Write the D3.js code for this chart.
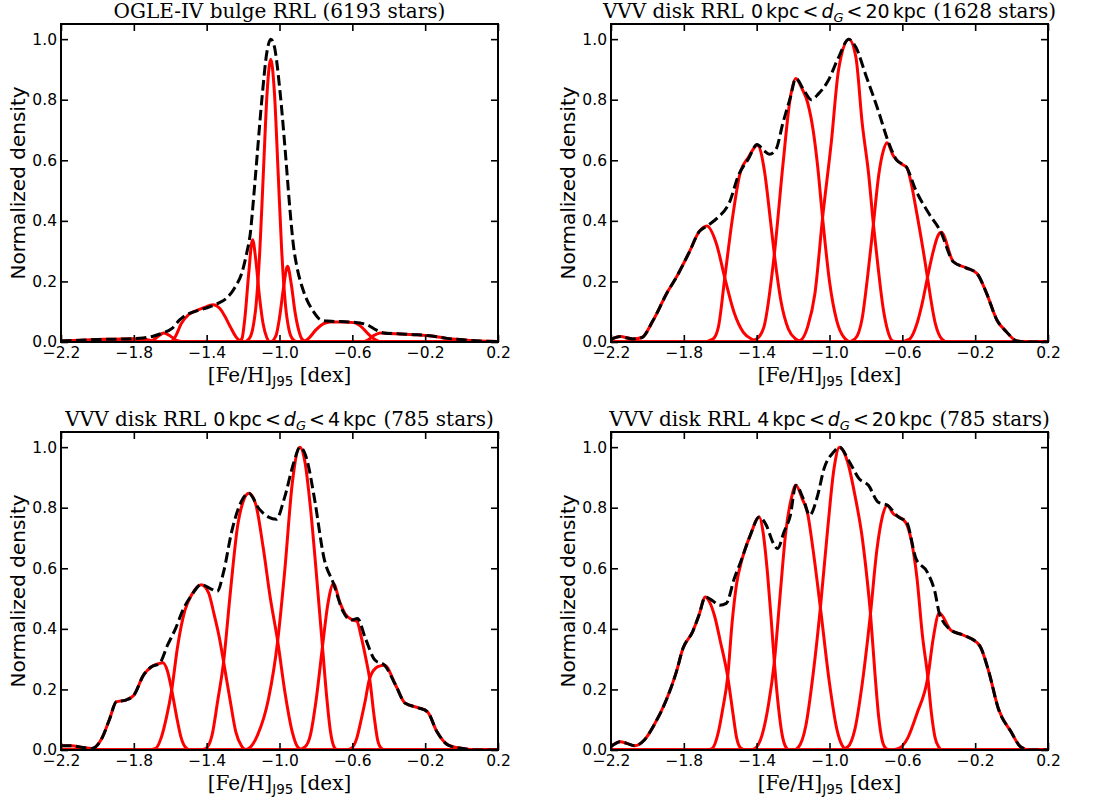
<!DOCTYPE html>
<html>
<head>
<meta charset="utf-8">
<script src="https://cdn.jsdelivr.net/npm/d3@7"></script>
<style>
  body { margin: 0; background: #fff; }
  svg { display: block; }
</style>
</head>
<body>
<div id="containerGraph"></div>
<script>

// axis ticks
var xTicks = [-2.2, -1.8, -1.4, -1.0, -0.6, -0.2, 0.2];
var yTicks = [0, 0.2, 0.4, 0.6, 0.8, 1.0];

// panel titles: [text before math, lower kpc, upper kpc, number of stars]
var titleOgle = "OGLE-IV bulge RRL (6193 stars)";
var titleVvvAll = ["VVV disk RRL", "0", "20", "(1628 stars)"];
var titleVvvNear = ["VVV disk RRL", "0", "4", "(785 stars)"];
var titleVvvFar = ["VVV disk RRL", "4", "20", "(785 stars)"];

// ---- OGLE-IV bulge: total density (dashed) and components (red), [x, y]
var ogleDensity = [[-2.2,0.003],[-2.0,0.008],[-1.8,0.011],[-1.75,0.013],[-1.69,0.02],[-1.64,0.03],[-1.59,0.045],[-1.55,0.072],[-1.52,0.087],[-1.48,0.098],[-1.43,0.107],[-1.38,0.117],[-1.34,0.127],[-1.29,0.145],[-1.245,0.18],[-1.207,0.228],[-1.18,0.294],[-1.16,0.36],[-1.143,0.47],[-1.125,0.6],[-1.097,0.8],[-1.07,0.954],[-1.048,1.0],[-1.03,0.98],[-0.996,0.82],[-0.969,0.635],[-0.941,0.426],[-0.923,0.316],[-0.905,0.25],[-0.877,0.184],[-0.85,0.14],[-0.813,0.1],[-0.776,0.074],[-0.74,0.069],[-0.7,0.068],[-0.593,0.065],[-0.52,0.057],[-0.47,0.04],[-0.428,0.03],[-0.35,0.027],[-0.245,0.024],[-0.153,0.019],[-0.08,0.012],[-0.007,0.008],[0.1,0.003],[0.2,0.002]];
var ogleComponents = [
  [[-2.2,0.003],[-2.0,0.008],[-1.8,0.011],[-1.75,0.01],[-1.7,0.004],[-1.65,0],[0.2,0]],
  [[-2.2,0],[-1.72,0],[-1.68,0.012],[-1.635,0.03],[-1.6,0.02],[-1.56,0.004],[-1.52,0],[0.2,0]],
  [[-2.2,0],[-1.6,0],[-1.57,0.02],[-1.54,0.06],[-1.5,0.09],[-1.45,0.105],[-1.4,0.117],[-1.363,0.123],[-1.33,0.112],[-1.3,0.085],[-1.27,0.05],[-1.24,0.018],[-1.21,0.002],[-1.18,0],[0.2,0]],
  [[-2.2,0],[-1.23,0],[-1.207,0.01],[-1.19,0.08],[-1.17,0.22],[-1.148,0.338],[-1.13,0.27],[-1.11,0.15],[-1.09,0.06],[-1.07,0.015],[-1.05,0],[0.2,0]],
  [[-2.2,0],[-1.198,0],[-1.168,0.01],[-1.148,0.041],[-1.128,0.127],[-1.108,0.303],[-1.088,0.567],[-1.068,0.824],[-1.048,0.934],[-1.028,0.824],[-1.008,0.567],[-0.988,0.303],[-0.968,0.127],[-0.948,0.041],[-0.928,0.01],[-0.898,0],[0.2,0]],
  [[-2.2,0],[-1.05,0],[-1.02,0.02],[-1.0,0.08],[-0.98,0.17],[-0.956,0.25],[-0.935,0.19],[-0.915,0.1],[-0.895,0.04],[-0.877,0.01],[-0.85,0],[0.2,0]],
  [[-2.2,0],[-0.88,0],[-0.84,0.012],[-0.8,0.04],[-0.76,0.06],[-0.72,0.066],[-0.65,0.066],[-0.593,0.064],[-0.55,0.05],[-0.51,0.025],[-0.47,0.006],[-0.44,0],[0.2,0]],
  [[-2.2,0],[-0.55,0],[-0.51,0.008],[-0.48,0.022],[-0.447,0.03],[-0.4,0.028],[-0.35,0.027],[-0.245,0.024],[-0.153,0.019],[-0.08,0.012],[-0.007,0.008],[0.1,0.003],[0.2,0.002]]
];

// ---- VVV disk 0 < dG < 20 kpc
var vvvAllDensity = [[-2.2,0.008],[-2.15,0.018],[-2.08,0.01],[-2.03,0.015],[-1.97,0.07],[-1.89,0.165],[-1.84,0.215],[-1.77,0.297],[-1.715,0.365],[-1.673,0.383],[-1.615,0.41],[-1.55,0.46],[-1.5,0.55],[-1.445,0.605],[-1.398,0.652],[-1.36,0.632],[-1.33,0.62],[-1.295,0.635],[-1.255,0.725],[-1.215,0.807],[-1.185,0.87],[-1.14,0.831],[-1.1,0.8],[-1.06,0.82],[-1.01,0.86],[-0.95,0.94],[-0.895,1.0],[-0.855,0.973],[-0.8,0.88],[-0.73,0.76],[-0.68,0.666],[-0.63,0.6],[-0.58,0.58],[-0.525,0.5],[-0.455,0.425],[-0.39,0.365],[-0.32,0.265],[-0.25,0.245],[-0.19,0.226],[-0.14,0.165],[-0.08,0.072],[-0.03,0.035],[0.03,0.003],[0.1,0],[0.2,0]];
var vvvAllComponents = [
  [[-2.2,0.008],[-2.15,0.018],[-2.08,0.01],[-2.03,0.015],[-1.97,0.07],[-1.89,0.165],[-1.84,0.215],[-1.77,0.297],[-1.715,0.365],[-1.673,0.383],[-1.623,0.328],[-1.573,0.207],[-1.523,0.096],[-1.473,0.032],[-1.423,0.008],[-1.37,0],[0.2,0]],
  [[-2.2,0],[-1.7,0],[-1.64,0.01],[-1.61,0.05],[-1.575,0.213],[-1.535,0.4],[-1.49,0.56],[-1.445,0.61],[-1.396,0.65],[-1.356,0.56],[-1.326,0.41],[-1.303,0.29],[-1.266,0.133],[-1.226,0.043],[-1.186,0.01],[-1.146,0],[0.2,0]],
  [[-2.2,0],[-1.445,0],[-1.4,0.01],[-1.36,0.05],[-1.303,0.29],[-1.255,0.59],[-1.215,0.807],[-1.185,0.87],[-1.15,0.835],[-1.12,0.79],[-1.09,0.7],[-1.065,0.58],[-1.038,0.41],[-1.0,0.2],[-0.96,0.07],[-0.92,0.015],[-0.88,0],[0.2,0]],
  [[-2.2,0],[-1.2,0],[-1.16,0.005],[-1.12,0.05],[-1.08,0.16],[-1.038,0.41],[-0.99,0.66],[-0.95,0.9],[-0.893,1.0],[-0.855,0.94],[-0.82,0.72],[-0.785,0.554],[-0.759,0.389],[-0.733,0.246],[-0.706,0.114],[-0.68,0.037],[-0.654,0.004],[-0.62,0],[0.2,0]],
  [[-2.2,0],[-0.9,0],[-0.86,0.01],[-0.82,0.08],[-0.79,0.22],[-0.759,0.389],[-0.73,0.55],[-0.705,0.63],[-0.684,0.658],[-0.65,0.615],[-0.61,0.59],[-0.575,0.576],[-0.55,0.52],[-0.523,0.433],[-0.479,0.279],[-0.462,0.213],[-0.418,0.059],[-0.383,0.01],[-0.35,0],[0.2,0]],
  [[-2.2,0],[-0.62,0],[-0.56,0.01],[-0.52,0.06],[-0.49,0.13],[-0.462,0.213],[-0.43,0.3],[-0.405,0.35],[-0.386,0.362],[-0.32,0.265],[-0.25,0.245],[-0.19,0.226],[-0.14,0.165],[-0.08,0.072],[-0.03,0.035],[0.03,0.003],[0.1,0],[0.2,0]]
];

// ---- VVV disk 0 < dG < 4 kpc
var vvvNearDensity = [[-2.2,0.014],[-2.144,0.014],[-2.08,0.008],[-2.03,0.005],[-1.976,0.038],[-1.932,0.104],[-1.897,0.159],[-1.844,0.165],[-1.8,0.181],[-1.747,0.247],[-1.703,0.275],[-1.659,0.286],[-1.615,0.346],[-1.571,0.401],[-1.527,0.467],[-1.483,0.511],[-1.43,0.546],[-1.38,0.533],[-1.342,0.524],[-1.307,0.588],[-1.263,0.72],[-1.219,0.808],[-1.168,0.848],[-1.113,0.797],[-1.06,0.769],[-1.017,0.762],[-0.974,0.83],[-0.921,0.95],[-0.888,1.0],[-0.851,0.962],[-0.808,0.83],[-0.755,0.632],[-0.703,0.549],[-0.65,0.456],[-0.607,0.429],[-0.572,0.434],[-0.528,0.368],[-0.476,0.297],[-0.423,0.28],[-0.362,0.214],[-0.309,0.154],[-0.24,0.14],[-0.187,0.126],[-0.135,0.06],[-0.073,0.016],[0.005,0.005],[0.075,0],[0.2,0]];
var vvvNearComponents = [
  [[-2.2,0.014],[-2.144,0.014],[-2.08,0.008],[-2.03,0.005],[-1.976,0.038],[-1.932,0.104],[-1.897,0.159],[-1.844,0.165],[-1.8,0.181],[-1.747,0.247],[-1.703,0.275],[-1.665,0.285],[-1.641,0.288],[-1.615,0.26],[-1.592,0.198],[-1.565,0.11],[-1.54,0.04],[-1.515,0.008],[-1.49,0],[0.2,0]],
  [[-2.2,0],[-1.72,0],[-1.68,0.005],[-1.65,0.04],[-1.62,0.11],[-1.592,0.198],[-1.56,0.34],[-1.52,0.46],[-1.48,0.515],[-1.43,0.546],[-1.39,0.52],[-1.36,0.45],[-1.33,0.37],[-1.307,0.291],[-1.27,0.16],[-1.24,0.06],[-1.21,0.015],[-1.18,0],[0.2,0]],
  [[-2.2,0],[-1.44,0],[-1.405,0.005],[-1.37,0.05],[-1.34,0.16],[-1.307,0.291],[-1.27,0.52],[-1.23,0.74],[-1.2,0.82],[-1.168,0.848],[-1.13,0.81],[-1.09,0.67],[-1.05,0.5],[-1.01,0.36],[-0.97,0.19],[-0.93,0.06],[-0.9,0.01],[-0.87,0],[0.2,0]],
  [[-2.2,0],[-1.2,0],[-1.17,0.005],[-1.12,0.05],[-1.06,0.17],[-1.01,0.36],[-0.97,0.6],[-0.93,0.88],[-0.888,1.0],[-0.86,0.95],[-0.83,0.8],[-0.8,0.6],[-0.764,0.341],[-0.74,0.17],[-0.72,0.06],[-0.7,0.01],[-0.68,0],[0.2,0]],
  [[-2.2,0],[-0.9,0],[-0.86,0.01],[-0.83,0.05],[-0.8,0.16],[-0.764,0.341],[-0.735,0.48],[-0.703,0.549],[-0.67,0.49],[-0.64,0.45],[-0.6,0.43],[-0.575,0.425],[-0.55,0.37],[-0.525,0.3],[-0.505,0.236],[-0.48,0.11],[-0.46,0.03],[-0.44,0.005],[-0.42,0],[0.2,0]],
  [[-2.2,0],[-0.64,0],[-0.607,0.005],[-0.575,0.04],[-0.554,0.093],[-0.53,0.16],[-0.505,0.236],[-0.46,0.275],[-0.423,0.28],[-0.362,0.214],[-0.309,0.154],[-0.24,0.14],[-0.187,0.126],[-0.135,0.06],[-0.073,0.016],[0.005,0.005],[0.075,0],[0.2,0]]
];

// ---- VVV disk 4 < dG < 20 kpc
var vvvFarDensity = [[-2.2,0.011],[-2.149,0.027],[-2.114,0.022],[-2.07,0.014],[-2.017,0.033],[-1.964,0.082],[-1.893,0.17],[-1.841,0.258],[-1.805,0.335],[-1.752,0.39],[-1.717,0.445],[-1.682,0.505],[-1.647,0.495],[-1.603,0.478],[-1.567,0.484],[-1.523,0.566],[-1.488,0.621],[-1.435,0.709],[-1.386,0.769],[-1.347,0.742],[-1.312,0.687],[-1.285,0.665],[-1.25,0.72],[-1.215,0.775],[-1.185,0.874],[-1.144,0.83],[-1.109,0.775],[-1.065,0.841],[-1.03,0.929],[-0.977,0.984],[-0.945,1.0],[-0.89,0.951],[-0.838,0.896],[-0.786,0.874],[-0.734,0.819],[-0.682,0.808],[-0.621,0.769],[-0.577,0.753],[-0.525,0.632],[-0.464,0.588],[-0.421,0.522],[-0.397,0.452],[-0.334,0.396],[-0.264,0.379],[-0.177,0.346],[-0.125,0.258],[-0.073,0.137],[-0.003,0.06],[0.049,0.011],[0.1,0],[0.2,0]];
var vvvFarComponents = [
  [[-2.2,0.011],[-2.149,0.027],[-2.114,0.022],[-2.07,0.014],[-2.017,0.033],[-1.964,0.082],[-1.893,0.17],[-1.841,0.258],[-1.805,0.335],[-1.752,0.39],[-1.717,0.445],[-1.682,0.505],[-1.66,0.49],[-1.63,0.44],[-1.6,0.36],[-1.559,0.242],[-1.53,0.12],[-1.51,0.04],[-1.49,0.008],[-1.46,0],[0.2,0]],
  [[-2.2,0],[-1.68,0],[-1.645,0.005],[-1.61,0.06],[-1.585,0.14],[-1.559,0.242],[-1.535,0.42],[-1.51,0.55],[-1.48,0.63],[-1.435,0.709],[-1.386,0.769],[-1.365,0.72],[-1.34,0.58],[-1.32,0.43],[-1.303,0.291],[-1.28,0.14],[-1.26,0.05],[-1.24,0.01],[-1.22,0],[0.2,0]],
  [[-2.2,0],[-1.44,0],[-1.41,0.005],[-1.37,0.05],[-1.335,0.15],[-1.303,0.291],[-1.27,0.52],[-1.24,0.72],[-1.21,0.83],[-1.185,0.874],[-1.15,0.83],[-1.12,0.78],[-1.09,0.66],[-1.05,0.47],[-1.0,0.22],[-0.96,0.07],[-0.93,0.015],[-0.9,0],[0.2,0]],
  [[-2.2,0],[-1.2,0],[-1.17,0.01],[-1.13,0.08],[-1.09,0.25],[-1.05,0.47],[-1.01,0.73],[-0.975,0.93],[-0.945,1.0],[-0.9,0.95],[-0.86,0.84],[-0.82,0.7],[-0.8,0.6],[-0.775,0.45],[-0.75,0.25],[-0.73,0.11],[-0.71,0.03],[-0.69,0.005],[-0.67,0],[0.2,0]],
  [[-2.2,0],[-0.94,0],[-0.9,0.01],[-0.86,0.07],[-0.82,0.22],[-0.775,0.45],[-0.74,0.66],[-0.71,0.77],[-0.682,0.808],[-0.65,0.78],[-0.62,0.77],[-0.58,0.75],[-0.55,0.69],[-0.52,0.57],[-0.49,0.38],[-0.46,0.24],[-0.44,0.12],[-0.42,0.04],[-0.4,0.01],[-0.38,0],[0.2,0]],
  [[-2.2,0],[-0.66,0],[-0.62,0.005],[-0.57,0.04],[-0.52,0.12],[-0.46,0.24],[-0.43,0.37],[-0.397,0.452],[-0.334,0.396],[-0.264,0.379],[-0.177,0.346],[-0.125,0.258],[-0.073,0.137],[-0.003,0.06],[0.049,0.011],[0.1,0],[0.2,0]]
];

var SERIF = "'DejaVu Serif', serif";
var SANS = "'DejaVu Sans', sans-serif";

var width = 437, height = 318;

var svg = d3.select("#containerGraph")
    .append("svg")
        .attr("width", 1100)
        .attr("height", 802);

// Set the ranges (same for every panel)
var x = d3.scaleLinear().domain([-2.2, 0.2]).range([0, width]);
var y = d3.scaleLinear().domain([0, 1.05]).range([height, 0]);

var line = d3.line()
    .x(function(d) { return x(d[0]); })
    .y(function(d) { return y(d[1]); })
    .curve(d3.curveMonotoneX);

function setTitle(t, title) {
    if (typeof title === "string") {
        t.append("tspan").style("font-family", SERIF).text(title);
        return;
    }
    // serif text, mathtext-like sans part, serif text
    t.append("tspan").style("font-family", SERIF).text(title[0]);
    t.append("tspan").style("font-family", SANS).style("font-size", "19px").attr("dx", 7).text(title[1]);
    t.append("tspan").style("font-family", SANS).style("font-size", "19px").attr("dx", 3).text("kpc");
    t.append("tspan").style("font-family", SANS).style("font-size", "19px").attr("dx", 3).text("<");
    t.append("tspan").style("font-family", SANS).style("font-size", "19px").style("font-style", "italic")
        .attr("dx", 3).text("d");
    t.append("tspan").style("font-family", SANS).style("font-style", "italic")
        .style("font-size", "13px").attr("dy", 4).text("G");
    t.append("tspan").style("font-family", SANS).style("font-size", "19px").attr("dx", 3).attr("dy", -4).text("<");
    t.append("tspan").style("font-family", SANS).style("font-size", "19px").attr("dx", 3).text(title[2]);
    t.append("tspan").style("font-family", SANS).style("font-size", "19px").attr("dx", 3).text("kpc");
    t.append("tspan").style("font-family", SERIF).attr("dx", 7).text(title[3]);
}

function createPanel(id, left, top, title, density, components) {

    var g = svg.append("g")
        .attr("transform", "translate(" + left + "," + top + ")");

    g.append("clipPath").attr("id", "clip" + id)
      .append("rect").attr("width", width).attr("height", height);

    var plot = g.append("g").attr("clip-path", "url(#clip" + id + ")");

    // red components first, dashed total on top
    components.forEach(function(c) {
        plot.append("path")
            .attr("d", line(c))
            .attr("fill", "none")
            .attr("stroke", "#ff0000")
            .attr("stroke-width", 3);
    });

    plot.append("path")
        .attr("d", line(density))
        .attr("fill", "none")
        .attr("stroke", "#000")
        .attr("stroke-width", 3)
        .attr("stroke-dasharray", "10.5,4.5");

    // axes, ticks pointing inwards on all four sides
    var fmt = d3.format(".1f");
    var xAxis = d3.axisBottom(x).tickValues(xTicks).tickFormat(fmt)
        .tickSizeInner(-7).tickSizeOuter(0).tickPadding(5);
    var xTop = d3.axisTop(x).tickValues(xTicks).tickFormat("")
        .tickSizeInner(-7).tickSizeOuter(0);
    var yAxis = d3.axisLeft(y).tickValues(yTicks).tickFormat(fmt)
        .tickSizeInner(-7).tickSizeOuter(0).tickPadding(4);
    var yRight = d3.axisRight(y).tickValues(yTicks).tickFormat("")
        .tickSizeInner(-7).tickSizeOuter(0);

    var axes = [
        g.append("g").attr("transform", "translate(0," + height + ")").call(xAxis),
        g.append("g").call(xTop),
        g.append("g").call(yAxis),
        g.append("g").attr("transform", "translate(" + width + ",0)").call(yRight)
    ];
    axes.forEach(function(a) {
        a.select(".domain").remove();
        a.selectAll("line").attr("stroke", "#000").attr("stroke-width", 1.6);
        a.selectAll("text").attr("fill", "#000")
            .style("font-family", SANS).style("font-size", "15.5px");
    });

    g.append("rect")
        .attr("width", width).attr("height", height)
        .attr("fill", "none").attr("stroke", "#000").attr("stroke-width", 2);

    // title
    var t = g.append("text")
        .attr("x", width / 2).attr("y", -6)
        .attr("text-anchor", "middle")
        .style("font-size", "20px").attr("fill", "#000");
    setTitle(t, title);

    // x label
    var xl = g.append("text")
        .attr("x", width / 2).attr("y", height + 40)
        .attr("text-anchor", "middle")
        .style("font-size", "20px").style("font-family", SERIF).attr("fill", "#000");
    xl.append("tspan").text("[Fe/H]");
    xl.append("tspan").style("font-family", SANS).style("font-size", "13.5px")
        .attr("dy", 4).text("J95");
    xl.append("tspan").attr("dy", -4).text(" [dex]");

    // y label
    g.append("text")
        .attr("transform", "rotate(-90)")
        .attr("x", -height / 2).attr("y", -36)
        .attr("text-anchor", "middle")
        .style("font-size", "20px").style("font-family", SANS).attr("fill", "#000")
        .text("Normalized density");
}

createPanel(0, 61, 24, titleOgle, ogleDensity, ogleComponents);
createPanel(1, 611, 24, titleVvvAll, vvvAllDensity, vvvAllComponents);
createPanel(2, 61, 432, titleVvvNear, vvvNearDensity, vvvNearComponents);
createPanel(3, 611, 432, titleVvvFar, vvvFarDensity, vvvFarComponents);

</script>
</body>
</html>
